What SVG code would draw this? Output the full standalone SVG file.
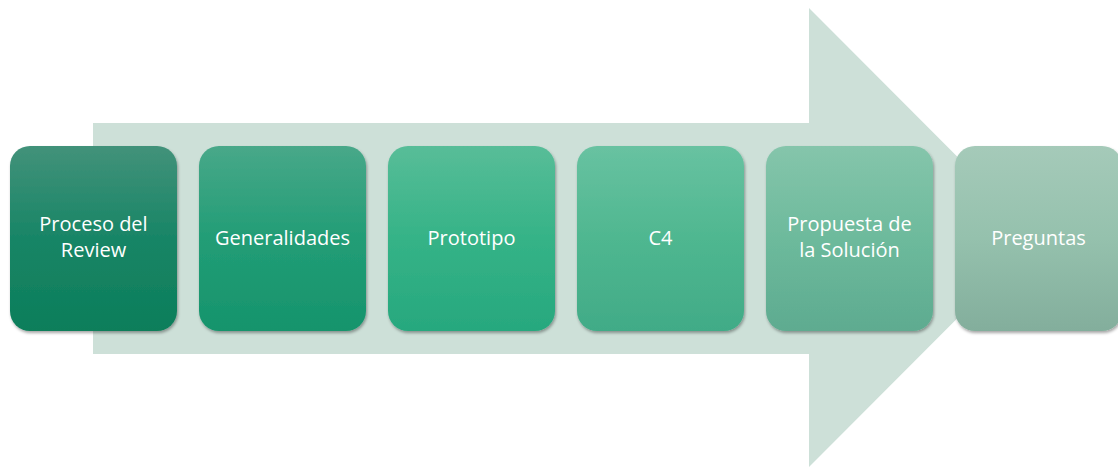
<svg xmlns="http://www.w3.org/2000/svg" width="1118" height="468" viewBox="0 0 1118 468">
  <defs>
    <linearGradient id="g1" x1="0" y1="0" x2="0" y2="1">
      <stop offset="0" stop-color="#42927a"/>
      <stop offset="0.5" stop-color="#188566"/>
      <stop offset="1" stop-color="#0c7e5a"/>
    </linearGradient>
    <linearGradient id="g2" x1="0" y1="0" x2="0" y2="1">
      <stop offset="0" stop-color="#48a889"/>
      <stop offset="0.5" stop-color="#229d76"/>
      <stop offset="1" stop-color="#16946c"/>
    </linearGradient>
    <linearGradient id="g3" x1="0" y1="0" x2="0" y2="1">
      <stop offset="0" stop-color="#58bd98"/>
      <stop offset="0.5" stop-color="#35b387"/>
      <stop offset="1" stop-color="#27a87e"/>
    </linearGradient>
    <linearGradient id="g4" x1="0" y1="0" x2="0" y2="1">
      <stop offset="0" stop-color="#68c2a1"/>
      <stop offset="0.5" stop-color="#4fb790"/>
      <stop offset="1" stop-color="#41ab87"/>
    </linearGradient>
    <linearGradient id="g5" x1="0" y1="0" x2="0" y2="1">
      <stop offset="0" stop-color="#85c5ab"/>
      <stop offset="0.5" stop-color="#6dba9c"/>
      <stop offset="1" stop-color="#5eab90"/>
    </linearGradient>
    <linearGradient id="g6" x1="0" y1="0" x2="0" y2="1">
      <stop offset="0" stop-color="#a5cab9"/>
      <stop offset="0.5" stop-color="#95c1ad"/>
      <stop offset="1" stop-color="#83ae9c"/>
    </linearGradient>
    <filter id="shadow" x="-10%" y="-10%" width="125%" height="125%">
      <feDropShadow dx="1" dy="2" stdDeviation="1.6" flood-color="#000" flood-opacity="0.35"/>
    </filter>
  </defs>
  <style>
    .box { filter: url(#shadow); }
    .label { font-family: "Open Sans", "Noto Sans", "Liberation Sans", sans-serif; font-size: 20px; fill: #ffffff; text-anchor: middle; }
  </style>

  <rect width="1118" height="468" fill="#ffffff"/>

  <!-- background process arrow -->
  <g id="connectors">
    <path d="M93,123 H809 V8 L1038,237.5 L809,467 V354 H93 Z" fill="#cde0d8"/>
  </g>

  <g id="node-proceso">
    <rect class="box" x="10" y="146" width="167" height="185" rx="20" fill="url(#g1)"/>
    <text class="label" x="93.5" y="231">Proceso del</text>
    <text class="label" x="93.5" y="257">Review</text>
  </g>
  <g id="node-generalidades">
    <rect class="box" x="199" y="146" width="167" height="185" rx="20" fill="url(#g2)"/>
    <text class="label" x="282.5" y="245">Generalidades</text>
  </g>
  <g id="node-prototipo">
    <rect class="box" x="388" y="146" width="167" height="185" rx="20" fill="url(#g3)"/>
    <text class="label" x="471.5" y="245">Prototipo</text>
  </g>
  <g id="node-c4">
    <rect class="box" x="577" y="146" width="167" height="185" rx="20" fill="url(#g4)"/>
    <text class="label" x="660.5" y="245">C4</text>
  </g>
  <g id="node-propuesta">
    <rect class="box" x="766" y="146" width="167" height="185" rx="20" fill="url(#g5)"/>
    <text class="label" x="849.5" y="231">Propuesta de</text>
    <text class="label" x="849.5" y="257">la Solución</text>
  </g>
  <g id="node-preguntas">
    <rect class="box" x="955" y="146" width="167" height="185" rx="20" fill="url(#g6)"/>
    <text class="label" x="1038.5" y="245">Preguntas</text>
  </g>
</svg>
